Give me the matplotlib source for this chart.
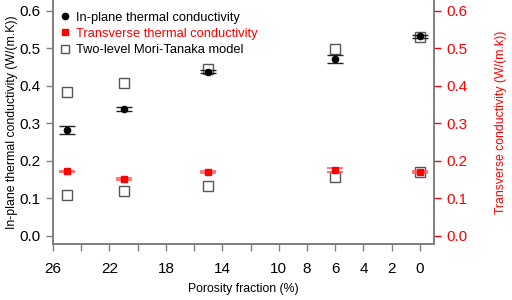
import matplotlib
matplotlib.use("Agg")
import matplotlib.pyplot as plt
from matplotlib.lines import Line2D

plt.rcParams['font.family'] = ['Liberation Sans', 'DejaVu Sans']

porosity = [25, 21, 15, 6, 0]
inplane = [0.282, 0.338, 0.438, 0.471, 0.532]
inplane_err = [0.011, 0.005, 0.003, 0.011, 0.004]
transverse = [0.172, 0.152, 0.170, 0.175, 0.170]
transverse_err = [0.002, 0.002, 0.002, 0.005, 0.002]
mt_inplane = [0.384, 0.408, 0.446, 0.499, 0.531]
mt_transverse = [0.110, 0.119, 0.134, 0.156, 0.169]

xticks = list(range(26, -1, -2))
xticklabels = ['26', '', '22', '', '18', '', '14', '', '10', '8', '6', '4', '2', '0']
yticks = [0.0, 0.1, 0.2, 0.3, 0.4, 0.5, 0.6]

fig = plt.figure(figsize=(5.12, 3.0), dpi=100)
ax = fig.add_axes([53/512, 1-244/300, (434-53)/512, 244/300])
ax2 = ax.twinx()

spine_c = '#808080'
ylim = (-0.022, 0.629)

# Mori-Tanaka hollow squares
ax.plot(porosity, mt_inplane, 's', mfc='none', mec='#555555', ms=7, mew=1.0, zorder=2)
ax.plot(porosity, mt_transverse, 's', mfc='none', mec='#555555', ms=7, mew=1.0, zorder=2)

# in-plane
ax.errorbar(porosity, inplane, yerr=inplane_err, fmt='o', color='black', ms=4.5,
            ecolor='#222222', elinewidth=1.0, capsize=6, capthick=1.0, zorder=3)

# transverse on right axis (same scale)
ax2.errorbar(porosity, transverse, yerr=transverse_err, fmt='s', color='red', ms=4.5,
             ecolor='#ff6060', elinewidth=1.0, capsize=6, capthick=1.2, zorder=3)

ax.set_xlim(26, -1)
ax.set_ylim(*ylim)
ax2.set_ylim(*ylim)
ax.set_xticks(xticks)
ax.set_xticklabels(xticklabels)
ax.set_yticks(yticks)
ax.set_yticklabels([f'{v:.1f}' for v in yticks])
ax2.set_yticks(yticks)
ax2.set_yticklabels([f'{v:.1f}' for v in yticks])

for a in (ax, ax2):
    for s in a.spines.values():
        s.set_color(spine_c)
        s.set_linewidth(1.3)
    a.spines['top'].set_visible(False)

ax.tick_params(axis='both', direction='out', length=5, width=1.0, color=spine_c,
               labelsize=11, pad=4)
ax.tick_params(axis='x', pad=8)
ax2.tick_params(axis='y', direction='out', length=5, width=1.0, color='red',
                labelcolor='red', labelsize=11, pad=4)

ax.set_xlabel('Porosity fraction (%)', fontsize=8.8, labelpad=5)
ax.set_ylabel('In-plane thermal conductivity (W/(m.K))', fontsize=8.8, labelpad=1)
ax2.set_ylabel('Transverse conductivity (W/(m.k))', fontsize=8.8, color='red', labelpad=20)

handles = [
    Line2D([], [], ls='none', marker='o', color='black', ms=4.5),
    Line2D([], [], ls='none', marker='s', color='red', ms=4.5),
    Line2D([], [], ls='none', marker='s', mfc='none', mec='#555555', ms=6, mew=1.0),
]
labels = ['In-plane thermal conductivity', 'Transverse thermal conductivity',
          'Two-level Mori-Tanaka model']
leg = ax.legend(handles, labels, loc='upper left', bbox_to_anchor=(-0.005, 0.99),
                frameon=False, fontsize=9.3, handlelength=0.8, handletextpad=0.4,
                labelspacing=0.33, borderaxespad=0.3)
leg.get_texts()[1].set_color('red')

fig.savefig('out.png', dpi=100)
